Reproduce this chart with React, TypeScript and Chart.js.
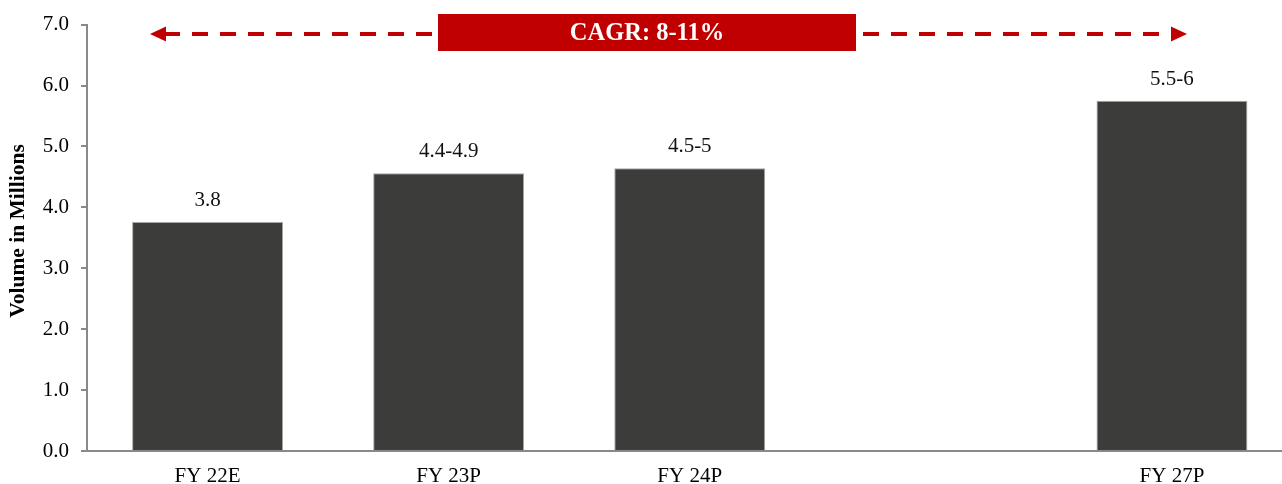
import React, { useEffect, useRef } from "react";
import { Chart, registerables } from "chart.js";

Chart.register(...registerables);

const categories = ["FY 22E", "FY 23P", "FY 24P", "", "FY 27P"];
const volumes: (number | null)[] = [3.76, 4.56, 4.64, null, 5.75];
const valueLabels = ["3.8", "4.4-4.9", "4.5-5", "", "5.5-6"];
const yAxisTitle = "Volume in Millions";
const cagrText = "CAGR: 8-11%";

const SERIF = "'Times New Roman', 'Liberation Serif', serif";
const RED = "#c00000";
const AXIS = "#898989";

const annotationPlugin = {
  id: "annot",
  afterDraw(chart: any) {
    const { ctx } = chart;
    const meta = chart.getDatasetMeta(0);
    ctx.save();

    // value labels
    ctx.font = `21px ${SERIF}`;
    ctx.fillStyle = "#111";
    ctx.textAlign = "center";
    ctx.textBaseline = "alphabetic";
    meta.data.forEach((bar: any, i: number) => {
      if (!valueLabels[i] || volumes[i] == null) return;
      ctx.fillText(valueLabels[i], bar.x, bar.y - 16);
    });

    // y-axis title
    ctx.save();
    ctx.translate(18, 231);
    ctx.rotate(-Math.PI / 2);
    ctx.font = `bold 21.5px ${SERIF}`;
    ctx.fillStyle = "#000";
    ctx.textAlign = "center";
    ctx.textBaseline = "middle";
    ctx.fillText(yAxisTitle, 0, 0);
    ctx.restore();

    // CAGR arrows
    const ay = 34;
    ctx.strokeStyle = RED;
    ctx.fillStyle = RED;
    ctx.lineWidth = 4;
    ctx.setLineDash([16, 12]);
    ctx.beginPath();
    ctx.moveTo(432, ay);
    ctx.lineTo(166, ay);
    ctx.stroke();
    ctx.beginPath();
    ctx.moveTo(863, ay);
    ctx.lineTo(1171, ay);
    ctx.stroke();
    ctx.setLineDash([]);
    ctx.beginPath();
    ctx.moveTo(150, ay);
    ctx.lineTo(166, ay - 7.5);
    ctx.lineTo(166, ay + 7.5);
    ctx.closePath();
    ctx.fill();
    ctx.beginPath();
    ctx.moveTo(1187, ay);
    ctx.lineTo(1171, ay - 7.5);
    ctx.lineTo(1171, ay + 7.5);
    ctx.closePath();
    ctx.fill();

    // CAGR box
    ctx.fillRect(438, 14, 418, 37);
    ctx.fillStyle = "#fff";
    ctx.font = `bold 24.5px ${SERIF}`;
    ctx.textAlign = "center";
    ctx.textBaseline = "alphabetic";
    ctx.fillText(cagrText, 647, 40);

    ctx.restore();
  },
};

export default function App() {
  const ref = useRef<HTMLCanvasElement>(null);
  useEffect(() => {
    const canvas = ref.current!;
    const font = { family: SERIF, size: 21 };
    const chart = new Chart(canvas, {
      type: "bar",
      data: {
        labels: categories,
        datasets: [
          {
            data: volumes,
            backgroundColor: "#3c3c3b",
            borderColor: "#a6a6a6",
            borderWidth: 1,
            barPercentage: 0.626,
            categoryPercentage: 1,
          },
        ],
      },
      options: {
        responsive: false,
        animation: false,
        devicePixelRatio: 1,
        layout: { padding: { top: 24, right: 7.5, left: 0, bottom: 0 } },
        plugins: {
          legend: { display: false },
          tooltip: { enabled: false },
          title: { display: false },
        },
        scales: {
          x: {
            grid: { display: false },
            border: { display: true, color: AXIS, width: 2 },
            ticks: { font, color: "#000", padding: 5, maxRotation: 0, autoSkip: false },
            afterFit: (s: any) => {
              s.height = 33;
            },
          },
          y: {
            min: 0,
            max: 7,
            ticks: {
              stepSize: 1,
              callback: (v: any) => Number(v).toFixed(1),
              font,
              color: "#000",
              padding: 12,
            },
            grid: { drawOnChartArea: false, drawTicks: true, tickLength: 6, color: AXIS, lineWidth: 2 },
            border: { display: true, color: AXIS, width: 2 },
            afterFit: (s: any) => {
              s.width = 87;
            },
          },
        },
      } as any,
      plugins: [annotationPlugin],
    });
    return () => chart.destroy();
  }, []);

  return (
    <div
      style={{
        position: "fixed",
        left: 0,
        top: 0,
        width: 1282,
        height: 484,
        overflow: "hidden",
        background: "#fff",
      }}
    >
      <canvas ref={ref} width={1300} height={484} style={{ display: "block", width: 1300, height: 484 }} />
    </div>
  );
}
